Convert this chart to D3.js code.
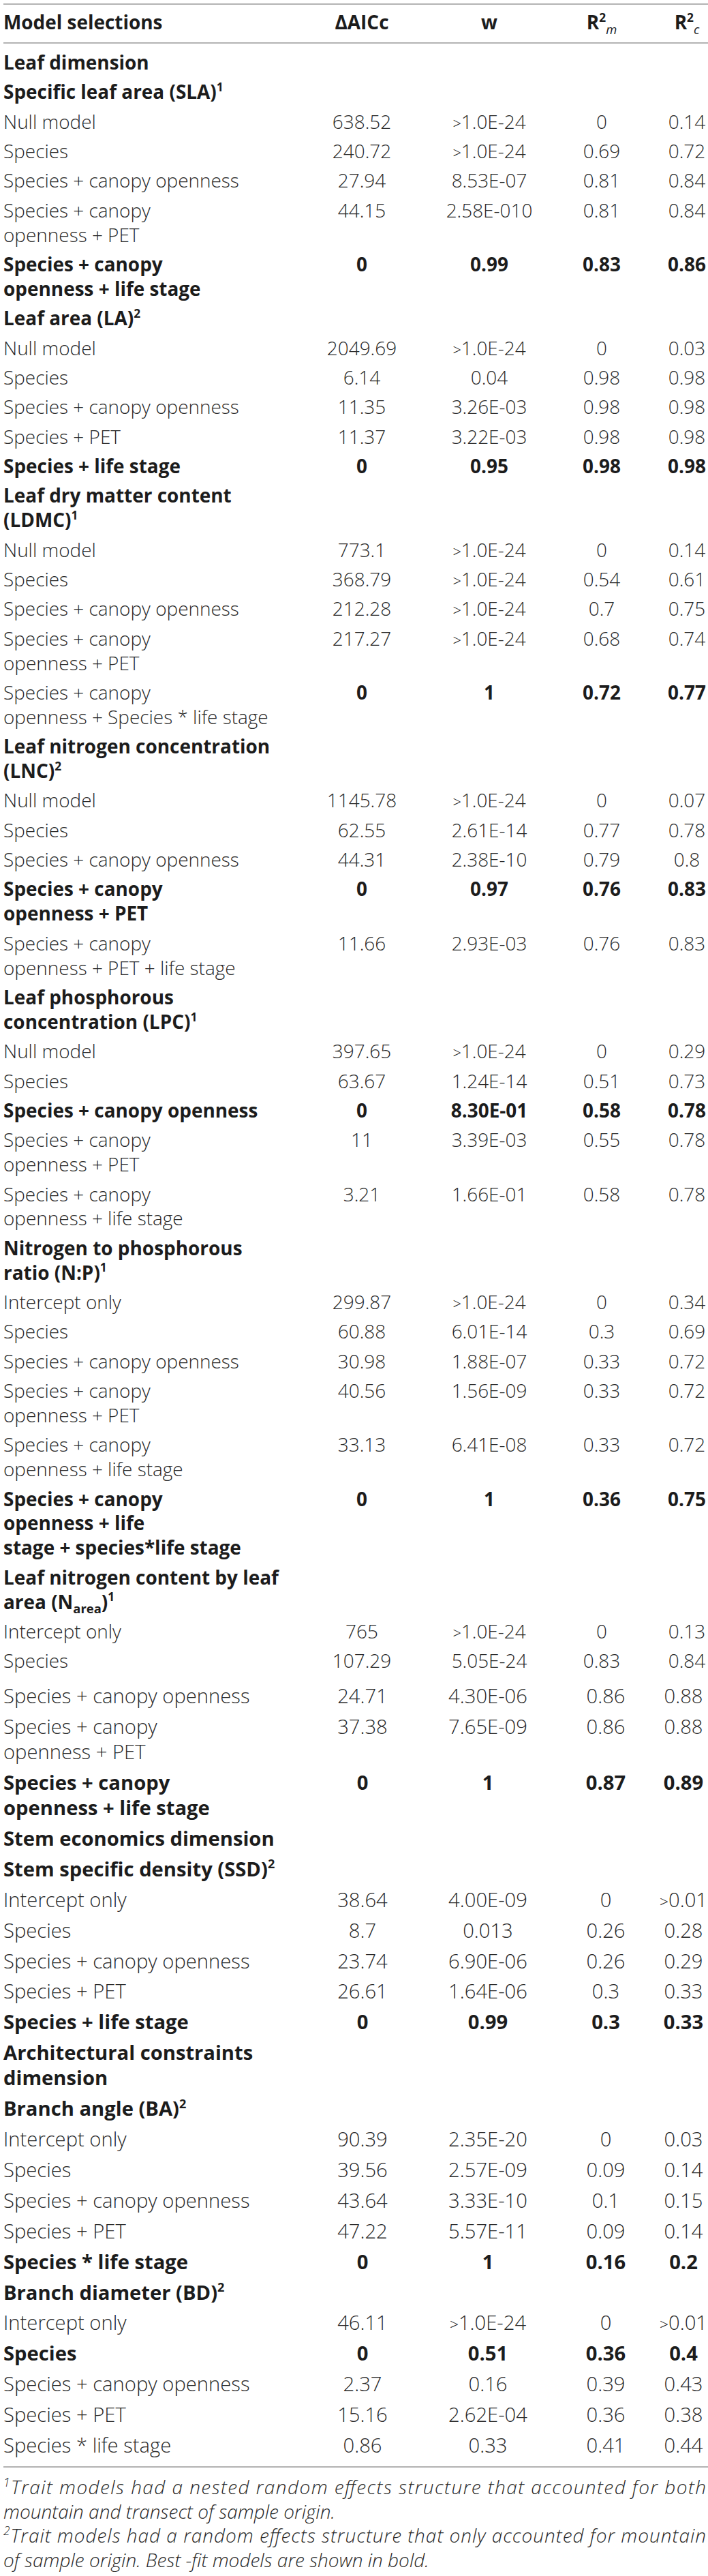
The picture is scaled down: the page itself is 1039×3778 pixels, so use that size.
<!DOCTYPE html>
<html><head><meta charset="utf-8">
<script src="https://cdn.jsdelivr.net/npm/d3@7"></script>
<style>body{margin:0;background:#fff} svg{display:block}</style>
</head><body>
<script>
// ---------------- DATA ----------------
const headerLabels = ["Model selections", "\u0394AICc", "w", "R^2_{m}", "R^2_{c}"];

// kind: dim = dimension heading, trait = trait heading, model = normal row,
// best = best-fit row (bold), bestv = bold values only
const rowKinds = [
  "dim","trait","model","model","model","model","best",
  "trait","model","model","model","model","best",
  "trait","model","model","model","model","bestv",
  "trait","model","model","model","best","model",
  "trait","model","model","best","model","model",
  "trait","model","model","model","model","model","best",
  "trait","model","model",
  "model","model","best",
  "dim","trait","model","model","model","model","best",
  "dim","trait","model","model","model","model","best",
  "trait","model","best","model","model","model"
];

const rowLabels = [
  ["Leaf dimension"],
  ["Specific leaf area (SLA)^1"],
  ["Null model"],
  ["Species"],
  ["Species + canopy openness"],
  ["Species + canopy","openness + PET"],
  ["Species + canopy","openness + life stage"],
  ["Leaf area (LA)^2"],
  ["Null model"],
  ["Species"],
  ["Species + canopy openness"],
  ["Species + PET"],
  ["Species + life stage"],
  ["Leaf dry matter content","(LDMC)^1"],
  ["Null model"],
  ["Species"],
  ["Species + canopy openness"],
  ["Species + canopy","openness + PET"],
  ["Species + canopy","openness + Species * life stage"],
  ["Leaf nitrogen concentration","(LNC)^2"],
  ["Null model"],
  ["Species"],
  ["Species + canopy openness"],
  ["Species + canopy","openness + PET"],
  ["Species + canopy","openness + PET + life stage"],
  ["Leaf phosphorous","concentration (LPC)^1"],
  ["Null model"],
  ["Species"],
  ["Species + canopy openness"],
  ["Species + canopy","openness + PET"],
  ["Species + canopy","openness + life stage"],
  ["Nitrogen to phosphorous","ratio (N:P)^1"],
  ["Intercept only"],
  ["Species"],
  ["Species + canopy openness"],
  ["Species + canopy","openness + PET"],
  ["Species + canopy","openness + life stage"],
  ["Species + canopy","openness + life","stage + species*life stage"],
  ["Leaf nitrogen content by leaf","area (N_{area})^1"],
  ["Intercept only"],
  ["Species"],
  ["Species + canopy openness"],
  ["Species + canopy","openness + PET"],
  ["Species + canopy","openness + life stage"],
  ["Stem economics dimension"],
  ["Stem specific density (SSD)^2"],
  ["Intercept only"],
  ["Species"],
  ["Species + canopy openness"],
  ["Species + PET"],
  ["Species + life stage"],
  ["Architectural constraints","dimension"],
  ["Branch angle (BA)^2"],
  ["Intercept only"],
  ["Species"],
  ["Species + canopy openness"],
  ["Species + PET"],
  ["Species * life stage"],
  ["Branch diameter (BD)^2"],
  ["Intercept only"],
  ["Species"],
  ["Species + canopy openness"],
  ["Species + PET"],
  ["Species * life stage"]
];

const dAICc = [
  "","","638.52","240.72","27.94","44.15","0",
  "","2049.69","6.14","11.35","11.37","0",
  "","773.1","368.79","212.28","217.27","0",
  "","1145.78","62.55","44.31","0","11.66",
  "","397.65","63.67","0","11","3.21",
  "","299.87","60.88","30.98","40.56","33.13","0",
  "","765","107.29",
  "24.71","37.38","0",
  "","","38.64","8.7","23.74","26.61","0",
  "","","90.39","39.56","43.64","47.22","0",
  "","46.11","0","2.37","15.16","0.86"
];

const wValues = [
  "","",">1.0E-24",">1.0E-24","8.53E-07","2.58E-010","0.99",
  "",">1.0E-24","0.04","3.26E-03","3.22E-03","0.95",
  "",">1.0E-24",">1.0E-24",">1.0E-24",">1.0E-24","1",
  "",">1.0E-24","2.61E-14","2.38E-10","0.97","2.93E-03",
  "",">1.0E-24","1.24E-14","8.30E-01","3.39E-03","1.66E-01",
  "",">1.0E-24","6.01E-14","1.88E-07","1.56E-09","6.41E-08","1",
  "",">1.0E-24","5.05E-24",
  "4.30E-06","7.65E-09","1",
  "","","4.00E-09","0.013","6.90E-06","1.64E-06","0.99",
  "","","2.35E-20","2.57E-09","3.33E-10","5.57E-11","1",
  "",">1.0E-24","0.51","0.16","2.62E-04","0.33"
];

const r2mValues = [
  "","","0","0.69","0.81","0.81","0.83",
  "","0","0.98","0.98","0.98","0.98",
  "","0","0.54","0.7","0.68","0.72",
  "","0","0.77","0.79","0.76","0.76",
  "","0","0.51","0.58","0.55","0.58",
  "","0","0.3","0.33","0.33","0.33","0.36",
  "","0","0.83",
  "0.86","0.86","0.87",
  "","","0","0.26","0.26","0.3","0.3",
  "","","0","0.09","0.1","0.09","0.16",
  "","0","0.36","0.39","0.36","0.41"
];

const r2cValues = [
  "","","0.14","0.72","0.84","0.84","0.86",
  "","0.03","0.98","0.98","0.98","0.98",
  "","0.14","0.61","0.75","0.74","0.77",
  "","0.07","0.78","0.8","0.83","0.83",
  "","0.29","0.73","0.78","0.78","0.78",
  "","0.34","0.69","0.72","0.72","0.72","0.75",
  "","0.13","0.84",
  "0.88","0.88","0.89",
  "","",">0.01","0.28","0.29","0.33","0.33",
  "","","0.03","0.14","0.15","0.14","0.2",
  "",">0.01","0.4","0.43","0.38","0.44"
];

const footnotes = [
  "^1Trait models had a nested random effects structure that accounted for both",
  "mountain and transect of sample origin.",
  "^2Trait models had a random effects structure that only accounted for mountain",
  "of sample origin. Best -fit models are shown in bold."
];
const footnoteJustified = [true, false, true, false];

// ---------------- LAYOUT ----------------
const W = 1039, H = 3778;
const FONT = "'Open Sans', 'Liberation Sans', sans-serif";
const LEFT = 5;
const segBreak = 41;              // first row index on the second page part
const segs = [
  {start: 102,  pitch: 43.35, line: 35.9, fscale: 1.0,  cols: [531, 718, 883, 1008]},
  {start: 2498, pitch: 44.88, line: 37.2, fscale: 1.045, cols: [532, 716, 889, 1003]}
];
const ruleColor = "#9a9a9a";
const textColor = "#2a2a2a";
const boldColor = "#1c1c1c";

const svg = d3.select("body").append("svg")
  .attr("width", W).attr("height", H).attr("viewBox", `0 0 ${W} ${H}`);

// fit font size to reference width of a known string
function fit(str, weight, style, target) {
  const p = svg.append("text").attr("font-family", FONT).attr("font-weight", weight)
    .attr("font-style", style).attr("font-size", 100).text(str);
  const w = p.node().getComputedTextLength();
  p.remove();
  return 100 * target / w;
}
const baseFont = fit("Species + canopy openness", 300, "normal", 346);
const footFont = fit("mountain and transect of sample origin.", 300, "italic", 487);

function parse(s) {
  const out = []; let i = 0, buf = "";
  while (i < s.length) {
    const c = s[i];
    if (c === "^" || c === "_") {
      if (buf) { out.push({t: buf, k: "n"}); buf = ""; }
      let txt;
      if (s[i + 1] === "{") { const j = s.indexOf("}", i); txt = s.slice(i + 2, j); i = j + 1; }
      else { txt = s[i + 1]; i += 2; }
      out.push({t: txt, k: c === "^" ? "sup" : "sub"});
    } else { buf += c; i++; }
  }
  if (buf) out.push({t: buf, k: "n"});
  return out;
}

function rich(textSel, s, fs, subItalic) {
  let shift = 0;
  parse(s).forEach(tok => {
    let target = 0, size = fs;
    if (tok.k === "sup") { target = -0.40 * fs; size = 0.62 * fs; }
    if (tok.k === "sub") { target = 0.24 * fs; size = 0.66 * fs; }
    const ts = textSel.append("tspan").attr("font-size", size).attr("dy", target - shift).text(tok.t);
    if (tok.k === "sub" && subItalic) ts.attr("font-style", "italic").attr("font-weight", 400);
    shift = target;
  });
}

// y positions through linear scales (units = row pitches)
const rowY = [];
segs.forEach((sg, si) => {
  sg.y = d3.scaleLinear().domain([0, 1]).range([sg.start, sg.start + sg.pitch]);
  const from = si === 0 ? 0 : segBreak, to = si === 0 ? segBreak : rowLabels.length;
  let u = 0;
  for (let r = from; r < to; r++) {
    rowY[r] = {y: sg.y(u), seg: sg};
    u += 1 + (rowLabels[r].length - 1) * sg.line / sg.pitch;
  }
});

// rules
const rules = [
  {y: 6, x1: LEFT, x2: W},
  {y: 63, x1: LEFT, x2: W},
  {y: rowY[rowLabels.length - 1].y + 21, x1: LEFT, x2: W}
];
svg.selectAll("line.rule").data(rules).join("line").attr("class", "rule")
  .attr("x1", d => d.x1).attr("x2", d => d.x2).attr("y1", d => d.y).attr("y2", d => d.y)
  .attr("stroke", ruleColor).attr("stroke-width", 1.5);

// header
const hdrX = d3.scaleOrdinal().domain(headerLabels).range([LEFT].concat(segs[0].cols));
headerLabels.forEach((h, i) => {
  const t = svg.append("text").attr("x", hdrX(h)).attr("y", 43)
    .attr("font-family", FONT).attr("font-weight", 700).attr("font-size", baseFont)
    .attr("fill", boldColor).attr("text-anchor", i === 0 ? "start" : "middle");
  rich(t, h, baseFont, true);
});

// rows
const valueCols = [dAICc, wValues, r2mValues, r2cValues];
rowLabels.forEach((lines, r) => {
  const kind = rowKinds[r];
  const {y, seg} = rowY[r];
  const fs = baseFont * seg.fscale;
  const labelBold = kind === "dim" || kind === "trait" || kind === "best";
  const valBold = kind === "best" || kind === "bestv";
  const g = svg.append("g").attr("class", "row");
  lines.forEach((ln, li) => {
    const t = g.append("text").attr("x", LEFT).attr("y", y + li * seg.line)
      .attr("font-family", FONT).attr("font-size", fs)
      .attr("font-weight", labelBold ? 700 : 300)
      .attr("fill", labelBold ? boldColor : textColor);
    rich(t, ln, fs, false);
  });
  const colX = d3.scaleOrdinal().domain([0, 1, 2, 3]).range(seg.cols);
  valueCols.forEach((arr, ci) => {
    const v = arr[r];
    if (!v) return;
    const t = g.append("text").attr("x", colX(ci)).attr("y", y).attr("text-anchor", "middle")
      .attr("font-family", FONT).attr("font-size", fs)
      .attr("font-weight", valBold ? 700 : 300)
      .attr("fill", valBold ? boldColor : textColor);
    if (v[0] === ">") {
      t.append("tspan").attr("font-size", fs * 0.78).text(">");
      t.append("tspan").text(v.slice(1));
    } else t.text(v);
  });
});

// footnotes
const footY = d3.scaleLinear().domain([0, 1]).range([3658, 3693.6]);
footnotes.forEach((f, i) => {
  const t = svg.append("text").attr("x", LEFT).attr("y", footY(i))
    .attr("font-family", FONT).attr("font-size", footFont).attr("font-style", "italic")
    .attr("font-weight", 300).attr("fill", textColor);
  rich(t, f, footFont, false);
  if (footnoteJustified[i]) t.attr("textLength", W - LEFT - 3).attr("lengthAdjust", "spacing");
});
</script>
</body></html>
